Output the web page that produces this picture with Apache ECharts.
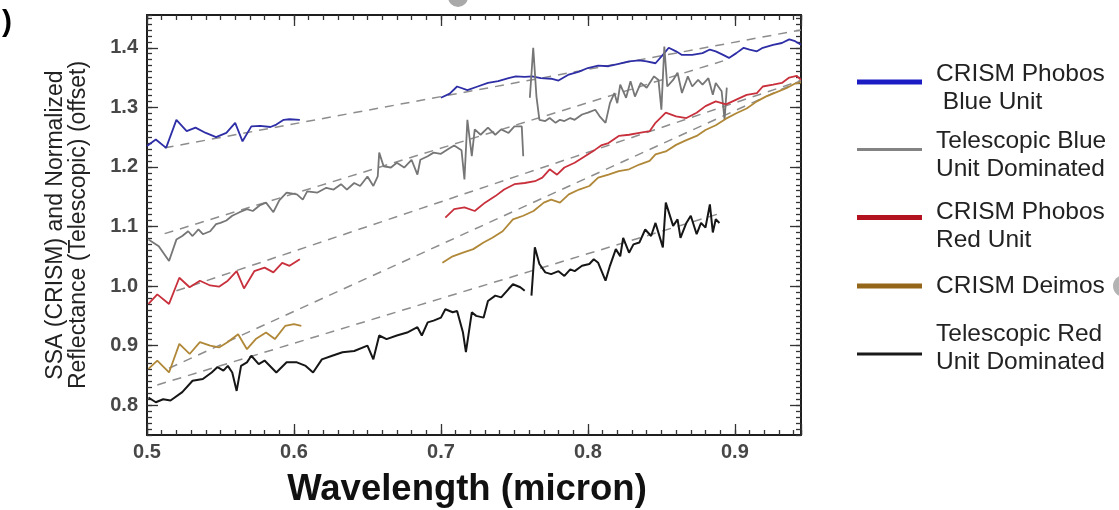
<!DOCTYPE html>
<html>
<head>
<meta charset="utf-8">
<script src="https://cdn.jsdelivr.net/npm/echarts@6/dist/echarts.min.js"></script>
<style>
  html, body { margin: 0; padding: 0; background: #fff; }
  #chart { width: 1119px; height: 510px; }
</style>
</head>
<body>
<div id="chart"></div>
<script>
// Axis tick labels
const xTickValues = [0.5, 0.6, 0.7, 0.8, 0.9];
const yTickValues = [0.8, 0.9, 1.0, 1.1, 1.2, 1.3, 1.4];

// Series names (as shown in the legend)
const nameBlue = 'CRISM Phobos\n Blue Unit';
const nameTelBlue = 'Telescopic Blue\nUnit Dominated';
const nameRed = 'CRISM Phobos\nRed Unit';
const nameDeimos = 'CRISM Deimos';
const nameTelRed = 'Telescopic Red\nUnit Dominated';

// CRISM Phobos blue unit: [wavelength, SSA]
const blueVis = [[0.500,1.235],[0.506,1.246],[0.513,1.232],[0.520,1.279],[0.527,1.260],[0.533,1.266],[0.540,1.257],[0.547,1.250],[0.554,1.257],[0.560,1.274],[0.565,1.243],[0.571,1.268],[0.577,1.269],[0.584,1.267],[0.588,1.271],[0.593,1.279],[0.597,1.280],[0.604,1.279]];
const blueNir = [[0.700,1.316],[0.706,1.323],[0.711,1.335],[0.718,1.329],[0.725,1.335],[0.732,1.341],[0.739,1.344],[0.746,1.349],[0.751,1.352],[0.757,1.351],[0.762,1.352],[0.768,1.349],[0.775,1.348],[0.780,1.345],[0.787,1.355],[0.794,1.360],[0.800,1.366],[0.807,1.370],[0.814,1.369],[0.821,1.373],[0.828,1.377],[0.835,1.379],[0.840,1.377],[0.846,1.374],[0.852,1.391],[0.855,1.400],[0.860,1.394],[0.864,1.388],[0.871,1.388],[0.878,1.391],[0.883,1.397],[0.887,1.394],[0.892,1.388],[0.896,1.383],[0.901,1.391],[0.906,1.400],[0.910,1.397],[0.915,1.394],[0.919,1.400],[0.926,1.405],[0.932,1.408],[0.937,1.414],[0.941,1.411],[0.945,1.405]];

// Telescopic, blue-unit dominated: [wavelength, normalized reflectance]
const telBlueA = [[0.501,1.078],[0.508,1.067],[0.515,1.042],[0.520,1.078],[0.524,1.084],[0.528,1.092],[0.531,1.084],[0.535,1.095],[0.538,1.087],[0.543,1.092],[0.547,1.104],[0.550,1.106],[0.554,1.110],[0.558,1.118],[0.563,1.124],[0.568,1.129],[0.572,1.126],[0.577,1.136],[0.581,1.140],[0.586,1.124],[0.590,1.144],[0.595,1.157],[0.602,1.154],[0.606,1.145],[0.609,1.159],[0.616,1.157],[0.622,1.165],[0.627,1.162],[0.632,1.171],[0.636,1.162],[0.641,1.173],[0.645,1.168],[0.650,1.184],[0.654,1.168],[0.657,1.184],[0.658,1.224],[0.661,1.201],[0.666,1.199],[0.670,1.207],[0.675,1.199],[0.680,1.212],[0.684,1.187],[0.686,1.212],[0.691,1.218],[0.695,1.224],[0.700,1.222],[0.705,1.230],[0.709,1.236],[0.714,1.228],[0.716,1.179],[0.718,1.279],[0.721,1.218],[0.723,1.263],[0.727,1.254],[0.732,1.266],[0.737,1.254],[0.741,1.263],[0.746,1.257],[0.750,1.268],[0.755,1.268],[0.756,1.218]];
const telBlueB = [[0.7605,1.316],[0.7628,1.400],[0.765,1.318],[0.767,1.279],[0.771,1.277],[0.774,1.282],[0.778,1.274],[0.781,1.279],[0.784,1.277],[0.788,1.282],[0.791,1.279],[0.796,1.288],[0.800,1.291],[0.805,1.296],[0.808,1.285],[0.812,1.274],[0.815,1.307],[0.818,1.324],[0.820,1.307],[0.822,1.338],[0.826,1.316],[0.829,1.344],[0.832,1.318],[0.836,1.341],[0.840,1.333],[0.845,1.352],[0.848,1.346],[0.850,1.296],[0.852,1.402],[0.854,1.335],[0.858,1.346],[0.861,1.358],[0.864,1.324],[0.868,1.352],[0.871,1.335],[0.875,1.346],[0.878,1.338],[0.882,1.349],[0.885,1.321],[0.887,1.341],[0.891,1.327],[0.893,1.279],[0.8945,1.333]];

// CRISM Phobos red unit
const redVis = [[0.501,0.970],[0.507,0.986],[0.515,0.970],[0.522,1.014],[0.529,0.998],[0.536,1.009],[0.543,1.001],[0.549,0.999],[0.555,1.009],[0.561,1.025],[0.566,0.996],[0.573,1.025],[0.580,1.031],[0.586,1.023],[0.592,1.039],[0.597,1.034],[0.604,1.045]];
const redNir = [[0.703,1.115],[0.709,1.129],[0.716,1.132],[0.723,1.126],[0.730,1.140],[0.737,1.151],[0.743,1.162],[0.750,1.171],[0.757,1.173],[0.764,1.176],[0.769,1.182],[0.774,1.196],[0.779,1.187],[0.784,1.199],[0.791,1.207],[0.798,1.218],[0.805,1.229],[0.809,1.236],[0.814,1.240],[0.821,1.252],[0.828,1.254],[0.835,1.257],[0.842,1.260],[0.846,1.274],[0.853,1.291],[0.860,1.285],[0.867,1.282],[0.874,1.291],[0.880,1.302],[0.887,1.310],[0.894,1.305],[0.901,1.313],[0.908,1.321],[0.915,1.324],[0.919,1.335],[0.926,1.338],[0.932,1.341],[0.937,1.350],[0.942,1.353],[0.945,1.346]];

// CRISM Deimos
const deimosVis = [[0.501,0.861],[0.507,0.875],[0.515,0.855],[0.522,0.903],[0.529,0.886],[0.536,0.906],[0.543,0.900],[0.549,0.897],[0.555,0.906],[0.562,0.919],[0.568,0.894],[0.574,0.911],[0.581,0.922],[0.587,0.911],[0.594,0.933],[0.600,0.936],[0.605,0.933]];
const deimosNir = [[0.701,1.039],[0.708,1.050],[0.715,1.056],[0.722,1.062],[0.729,1.073],[0.735,1.081],[0.742,1.092],[0.749,1.112],[0.756,1.118],[0.763,1.126],[0.770,1.140],[0.775,1.145],[0.781,1.140],[0.787,1.154],[0.794,1.162],[0.801,1.168],[0.807,1.182],[0.814,1.187],[0.821,1.193],[0.828,1.196],[0.835,1.204],[0.842,1.210],[0.846,1.221],[0.853,1.226],[0.860,1.237],[0.867,1.245],[0.874,1.252],[0.880,1.262],[0.887,1.270],[0.894,1.281],[0.901,1.290],[0.908,1.298],[0.915,1.310],[0.921,1.318],[0.928,1.325],[0.935,1.332],[0.941,1.340],[0.945,1.342]];

// Telescopic, red-unit dominated
const telRedA = [[0.501,0.813],[0.506,0.805],[0.511,0.810],[0.516,0.808],[0.524,0.822],[0.531,0.841],[0.538,0.844],[0.544,0.855],[0.548,0.864],[0.552,0.858],[0.555,0.866],[0.558,0.855],[0.561,0.824],[0.564,0.866],[0.568,0.872],[0.571,0.883],[0.576,0.869],[0.580,0.875],[0.588,0.855],[0.595,0.872],[0.602,0.872],[0.608,0.866],[0.613,0.855],[0.619,0.877],[0.626,0.883],[0.633,0.889],[0.641,0.891],[0.650,0.900],[0.654,0.877],[0.658,0.917],[0.663,0.911],[0.670,0.917],[0.677,0.922],[0.684,0.931],[0.687,0.917],[0.691,0.939],[0.695,0.942],[0.700,0.947],[0.703,0.961],[0.708,0.956],[0.711,0.958],[0.715,0.922],[0.717,0.889],[0.721,0.956],[0.724,0.950],[0.729,0.947],[0.732,0.975],[0.737,0.984],[0.741,0.981],[0.746,0.995],[0.749,1.003],[0.754,0.998],[0.757,0.992]];
const telRedB = [[0.7616,0.984],[0.7639,1.065],[0.767,1.037],[0.771,1.023],[0.775,1.020],[0.780,1.025],[0.784,1.017],[0.788,1.028],[0.791,1.025],[0.796,1.034],[0.801,1.037],[0.804,1.045],[0.807,1.039],[0.812,1.009],[0.815,1.034],[0.819,1.062],[0.822,1.050],[0.824,1.081],[0.828,1.056],[0.831,1.070],[0.835,1.073],[0.839,1.095],[0.843,1.084],[0.846,1.106],[0.851,1.065],[0.853,1.140],[0.858,1.101],[0.861,1.112],[0.863,1.081],[0.867,1.106],[0.870,1.118],[0.874,1.087],[0.877,1.106],[0.880,1.098],[0.883,1.137],[0.885,1.090],[0.887,1.112],[0.8895,1.106]];

// Continuum reference lines (dashed): start and end points
const contBlue = [[0.512,1.232],[0.945,1.430]];
const contTelBlue = [[0.512,1.088],[0.892,1.378]];
const contRed = [[0.520,0.992],[0.945,1.345]];
const contDeimos = [[0.515,0.862],[0.945,1.345]];
const contTelRed = [[0.507,0.834],[0.890,1.122]];

const FONT = '"Liberation Sans", Arial, Helvetica, sans-serif';

// join the visible and near-infrared pieces with a break between them
function joined(a, b) {
  return a.concat([[(a[a.length - 1][0] + b[0][0]) / 2, '-']], b);
}

function dataSeries(name, a, b, color, width) {
  return {
    name: name, type: 'line', data: joined(a, b),
    symbol: 'none', connectNulls: false, z: 3,
    lineStyle: { color: color, width: width }, itemStyle: { color: color },
    emphasis: { disabled: true }, silent: true
  };
}

function contSeries(pts) {
  return {
    type: 'line', data: pts, symbol: 'none', z: 2, silent: true,
    lineStyle: { color: '#8d8d8d', width: 1.5, type: [9, 7] },
    emphasis: { disabled: true }
  };
}

const series = [
  contSeries(contBlue), contSeries(contTelBlue), contSeries(contRed),
  contSeries(contDeimos), contSeries(contTelRed),
  dataSeries(nameBlue, blueVis, blueNir, '#2e2ea6', 1.8),
  dataSeries(nameTelBlue, telBlueA, telBlueB, '#767676', 1.8),
  dataSeries(nameRed, redVis, redNir, '#c8303c', 1.8),
  dataSeries(nameDeimos, deimosVis, deimosNir, '#b08838', 1.8),
  dataSeries(nameTelRed, telRedA, telRedB, '#161616', 2)
];

// One legend block per entry so each can sit at its own height.
// lead / trail: spacer line heights that move the text relative to its swatch.
const legendItems = [
  { name: nameBlue, lead: 13.6, trail: 0, top: 53.4, color: '#1c1cc4', width: 5 },
  { name: nameTelBlue, lead: 11.4, trail: 0, top: 121.1, color: '#838383', width: 3 },
  { name: nameRed, lead: 18.2, trail: 0, top: 189.1, color: '#b3121f', width: 5 },
  { name: nameDeimos, lead: 0, trail: 0, top: 273.4, color: '#93661a', width: 5 },
  { name: nameTelRed, lead: 0, trail: 11.6, top: 321.8, color: '#1a1a1a', width: 3 }
];
const LINE_H = 28;
const legends = legendItems.map(it => {
  const lines = it.name.split('\n');
  let text = lines.map(l => '{t|' + l + '}').join('\n');
  if (it.lead) text = '{s| }\n' + text;
  if (it.trail) text = text + '\n{e| }';
  return {
    left: 857, top: it.top, orient: 'vertical', padding: 0,
    itemWidth: 65, itemHeight: it.width, selectedMode: false,
    data: [{ name: it.name, icon: 'rect', itemStyle: { color: it.color } }],
    formatter: () => text,
    textStyle: {
      fontFamily: FONT, fontSize: 24.5, color: '#222', padding: [0, 0, 0, 9],
      rich: {
        t: { fontFamily: FONT, fontSize: 24.5, lineHeight: LINE_H, color: '#222' },
        s: { fontSize: 1, lineHeight: it.lead || 1 },
        e: { fontSize: 1, lineHeight: it.trail || 1 }
      }
    }
  };
});

const tickLabel = { fontFamily: FONT, fontSize: 20, fontWeight: 'bold', color: '#474747' };
const frameLine = { show: true, lineStyle: { color: '#1e1e1e', width: 2 } };

function xAxisDef(pos, major, labels) {
  return {
    type: 'value', position: pos, min: 0.5, max: 0.945,
    interval: major ? 0.1 : 0.01,
    axisLine: major ? frameLine : { show: false },
    axisTick: { show: true, inside: true, length: major ? 11 : 5, lineStyle: { color: '#333', width: 1.3 } },
    axisLabel: labels ? Object.assign({ show: true, margin: 7, formatter: v => v.toFixed(1), customValues: xTickValues }, tickLabel) : { show: false },
    splitLine: { show: false }
  };
}
function yAxisDef(pos, major, labels) {
  const ax = {
    type: 'value', position: pos, min: 0.75, max: 1.455,
    axisLine: major ? frameLine : { show: false },
    axisTick: { show: true, inside: true, length: major ? 11 : 5, lineStyle: { color: '#333', width: 1.3 } },
    axisLabel: labels ? Object.assign({ show: true, margin: 9, formatter: v => v.toFixed(1), customValues: yTickValues }, tickLabel) : { show: false },
    splitLine: { show: false }
  };
  if (major) {
    ax.axisTick.customValues = yTickValues;
  } else {
    ax.interval = 0.01;
  }
  return ax;
}

const xMain = xAxisDef('bottom', true, true);
xMain.name = 'Wavelength (micron)';
xMain.nameLocation = 'middle';
xMain.nameGap = 36;
xMain.nameTextStyle = { fontFamily: FONT, fontSize: 36.5, fontWeight: 'bold', color: '#111', padding: [0, 14, 0, 0] };

const yMain = yAxisDef('left', true, true);
yMain.name = 'SSA (CRISM) and Normalized\nReflectance (Telescopic) (offset)';
yMain.nameLocation = 'middle';
yMain.nameRotate = 90;
yMain.nameGap = 57;
yMain.nameTextStyle = { fontFamily: FONT, fontSize: 23, lineHeight: 23, color: '#222' };

const option = {
  backgroundColor: '#fff',
  animation: false,
  grid: { left: 147, right: 318, top: 15, bottom: 75, containLabel: false, outerBoundsMode: 'none' },
  xAxis: [xMain, xAxisDef('bottom', false, false), xAxisDef('top', true, false), xAxisDef('top', false, false)],
  yAxis: [yMain, yAxisDef('left', false, false), yAxisDef('right', true, false), yAxisDef('right', false, false)],
  legend: legends,
  series: series,
  graphic: [
    { type: 'text', left: 2, top: 8, style: { text: ')', fontFamily: FONT, fontSize: 30, fontWeight: 'bold', fill: '#000' } },
    { type: 'circle', shape: { cx: 458, cy: -3, r: 10 }, style: { fill: '#a9a9a9' } },
    { type: 'circle', shape: { cx: 1124, cy: 286, r: 11 }, style: { fill: '#b3b3b3' } }
  ]
};

const chart = echarts.init(document.getElementById('chart'), null, { renderer: 'canvas' });
chart.setOption(option);
</script>
</body>
</html>
